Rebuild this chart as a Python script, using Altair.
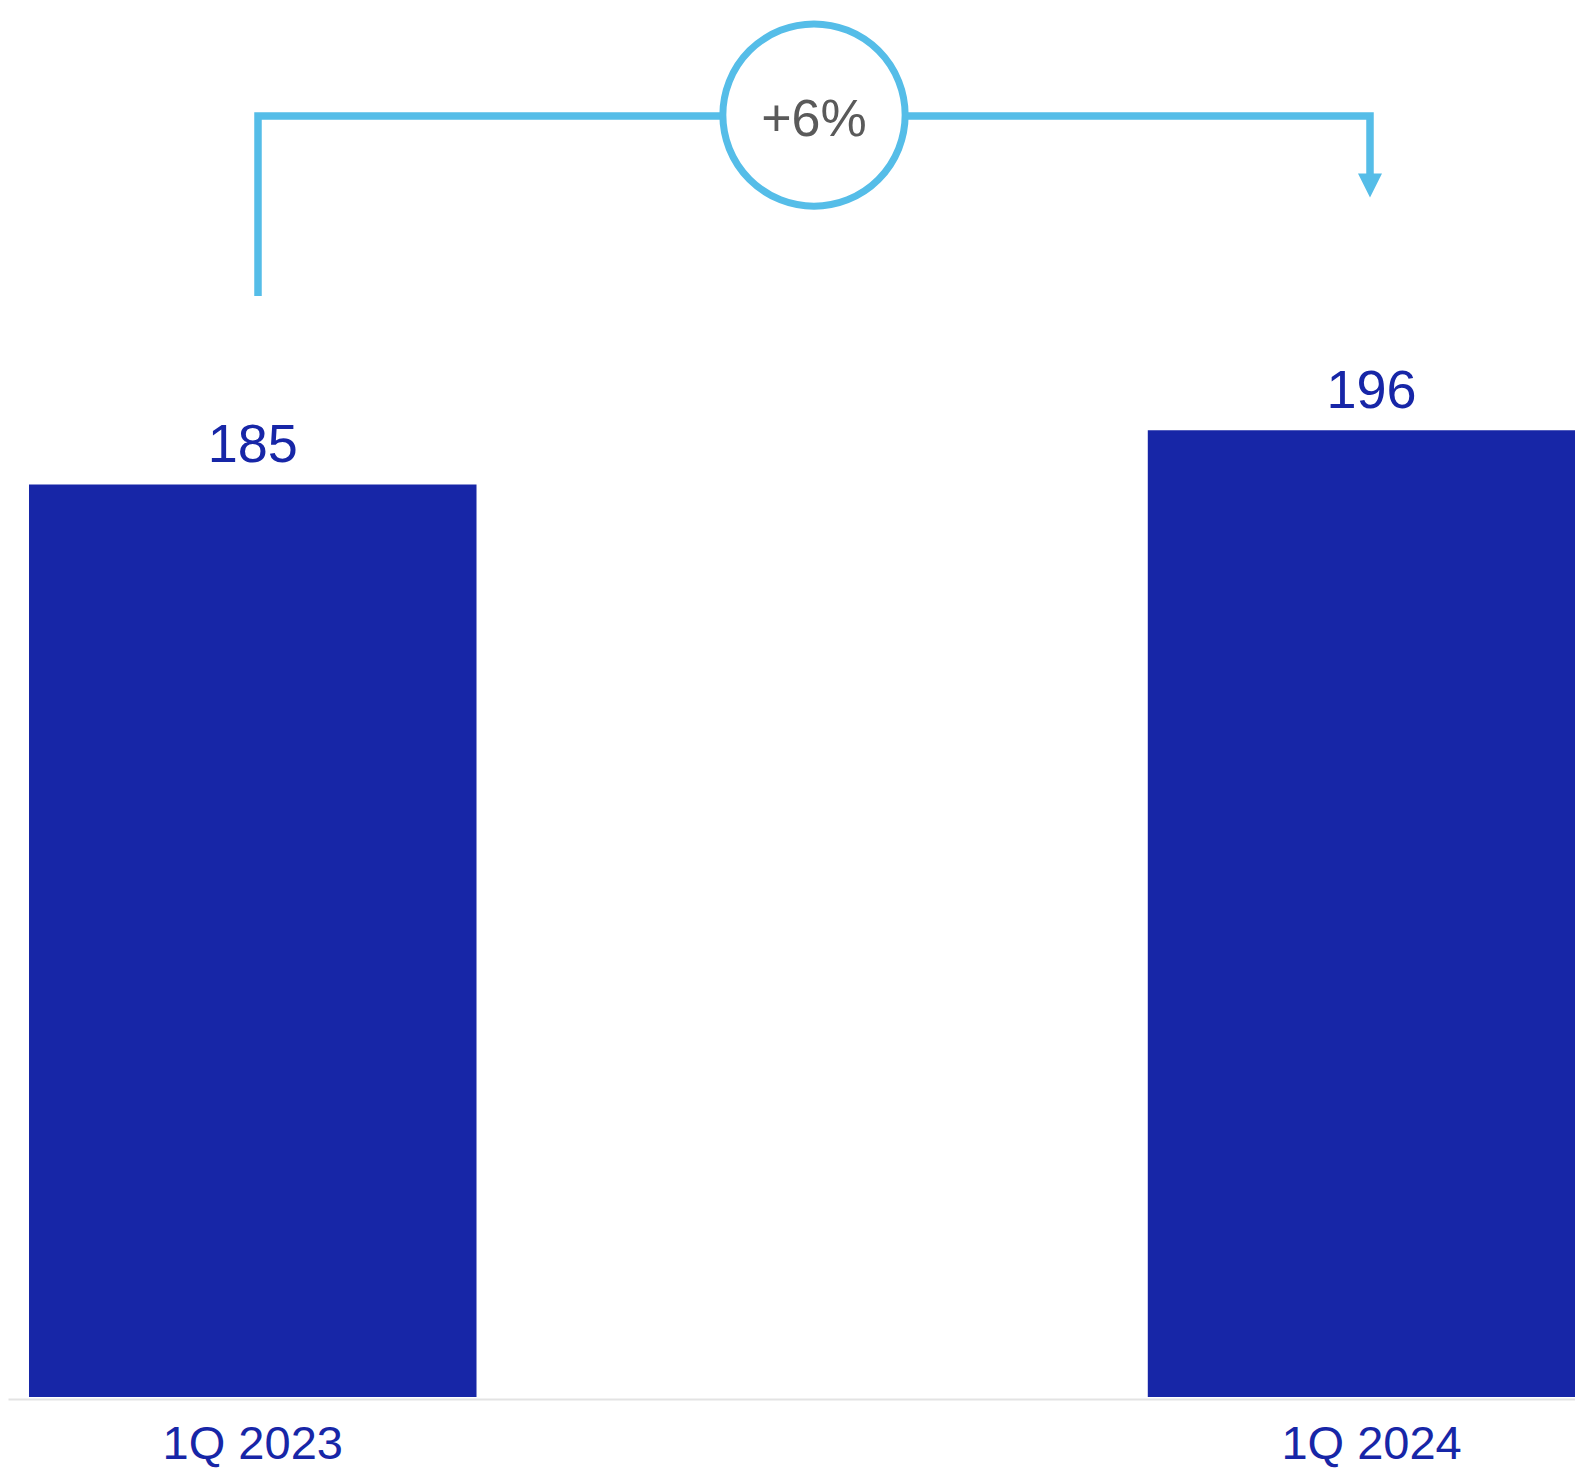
import altair as alt
import pandas as pd

# ---- data ----
categories = ["1Q 2023", "1Q 2024"]
values = [185, 196]

# bracket connector (pos 0 = first bar, 1 = second bar), in value units
bracket_pos = [0, 0, 1, 1]
bracket_val = [223.2, 259.7, 259.7, 247.5]
bracket_order = [0, 1, 2, 3]

arrow_pos = [1]
arrow_val = [245.6]

badge_pos = [0.5]
badge_val = [259.9]
badge_text = ["+6%"]

BLUE = "#1726A7"
LIGHT = "#55BDE8"
GRAY_TXT = "#5A5A5A"
FONT = "Liberation Sans"

YMAX = 281.6
W, H = 1567, 1389

bars_df = pd.DataFrame({"cat": categories, "value": values})
bracket_df = pd.DataFrame({"pos": bracket_pos, "val": bracket_val, "ord": bracket_order})
arrow_df = pd.DataFrame({"pos": arrow_pos, "val": arrow_val})
badge_df = pd.DataFrame({"pos": badge_pos, "val": badge_val, "txt": badge_text})

yscale = alt.Scale(domain=[0, YMAX], nice=False, zero=True)
xband = alt.Scale(type="band", domain=categories, range=[0, 1608.3],
                  paddingInner=0.6, paddingOuter=0.01877, align=0.5)
xq = alt.Scale(domain=[0, 1], range=[250, 1362], nice=False, zero=False)

bars = alt.Chart(bars_df).mark_bar(color=BLUE, clip=True).encode(
    x=alt.X("cat:N", scale=xband, sort=categories,
            axis=alt.Axis(title=None, labelAngle=0, ticks=False, tickSize=0,
                          labelPadding=59, offset=2, labelBaseline="alphabetic",
                          labelFont=FONT, labelFontSize=47, labelColor=BLUE,
                          labelLimit=1000, labelOverlap=False,
                          domainColor="#E3E3E3", domainWidth=2, grid=False)),
    y=alt.Y("value:Q", scale=yscale, axis=None),
)

value_labels = alt.Chart(bars_df).mark_text(
    font=FONT, fontSize=54, color=BLUE, baseline="alphabetic", align="center", dy=-22.5
).encode(
    x=alt.X("cat:N", scale=xband, sort=categories, axis=None),
    y=alt.Y("value:Q", scale=yscale, axis=None),
    text=alt.Text("value:Q"),
)

bracket = alt.Chart(bracket_df).mark_line(
    color=LIGHT, strokeWidth=7.5, strokeCap="butt", strokeJoin="miter"
).encode(
    x=alt.X("pos:Q", scale=xq, axis=None),
    y=alt.Y("val:Q", scale=yscale, axis=None),
    order=alt.Order("ord:Q"),
)

arrow = alt.Chart(arrow_df).mark_point(
    shape="M-1,-1L1,-1L0,1Z", filled=True, color=LIGHT, size=576, opacity=1, strokeWidth=0
).encode(
    x=alt.X("pos:Q", scale=xq, axis=None),
    y=alt.Y("val:Q", scale=yscale, axis=None),
)

badge = alt.Chart(badge_df).mark_point(
    shape="circle", filled=True, color="white", stroke=LIGHT, strokeWidth=7,
    size=33233, opacity=1, fillOpacity=1, strokeOpacity=1
).encode(
    x=alt.X("pos:Q", scale=xq, axis=None),
    y=alt.Y("val:Q", scale=yscale, axis=None),
)

badge_label = alt.Chart(badge_df).mark_text(
    font=FONT, fontSize=52, color=GRAY_TXT, baseline="alphabetic", align="center", dy=21
).encode(
    x=alt.X("pos:Q", scale=xq, axis=None),
    y=alt.Y("val:Q", scale=yscale, axis=None),
    text="txt:N",
)

chart = alt.layer(bars, value_labels, bracket, arrow, badge, badge_label).resolve_scale(
    x="independent"
).properties(
    width=W, height=H,
    autosize=alt.AutoSizeParams(type="none"),
    padding={"left": 0, "top": 0, "right": 0, "bottom": 73},
).configure_view(stroke=None)

chart.save("out.html", embed_options={"renderer": "svg", "actions": False})
